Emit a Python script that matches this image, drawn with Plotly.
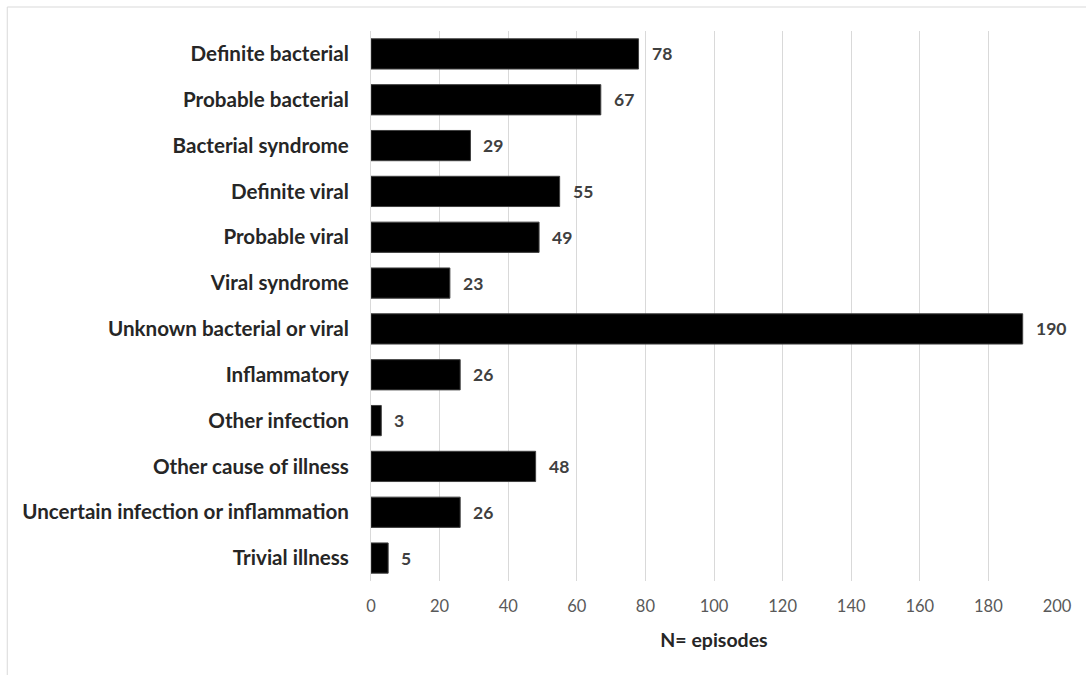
import plotly.graph_objects as go

# Episode counts by final diagnostic category
categories = [
    "Definite bacterial",
    "Probable bacterial",
    "Bacterial syndrome",
    "Definite viral",
    "Probable viral",
    "Viral syndrome",
    "Unknown bacterial or viral",
    "Inflammatory",
    "Other infection",
    "Other cause of illness",
    "Uncertain infection or inflammation",
    "Trivial illness",
]
episodes = [78, 67, 29, 55, 49, 23, 190, 26, 3, 48, 26, 5]
x_ticks = list(range(0, 201, 20))

fig = go.Figure(
    go.Bar(
        y=categories,
        x=episodes,
        orientation="h",
        marker=dict(color="black", line=dict(color="#404040", width=1)),
        cliponaxis=False,
    )
)

# value labels placed just right of each bar end
for cat, val in zip(categories, episodes):
    fig.add_annotation(
        x=val,
        y=cat,
        text=str(val),
        showarrow=False,
        xanchor="left",
        xshift=11,
        font=dict(family="Lato", size=17.5, color="#404040", weight="bold"),
    )

fig.update_layout(
    width=1086,
    height=675,
    margin=dict(l=371, r=29, t=31, b=94),
    paper_bgcolor="white",
    plot_bgcolor="white",
    bargap=0.34,
    showlegend=False,
    font=dict(family="Lato", color="#262626"),
    xaxis=dict(
        range=[0, 200],
        tickvals=x_ticks,
        showgrid=True,
        gridcolor="#d9d9d9",
        gridwidth=1,
        zeroline=False,
        showline=False,
        ticks="",
        ticklabelstandoff=13,
        tickfont=dict(family="Lato", size=16.5, color="#595959"),
        title=dict(
            text="N= episodes",
            font=dict(family="Lato", size=19.5, color="#262626", weight="bold"),
            standoff=18,
        ),
    ),
    yaxis=dict(
        autorange="reversed",
        showgrid=False,
        showline=True,
        linecolor="#d9d9d9",
        linewidth=1,
        ticks="",
        ticklabelstandoff=17,
        tickfont=dict(family="Lato", size=20.6, color="#262626", weight="bold"),
    ),
    shapes=[
        dict(
            type="rect",
            xref="paper",
            yref="paper",
            x0=-364 / 686.5,
            x1=1.2,
            y0=-1.0,
            y1=1 + 24 / 550,
            line=dict(color="#d9d9d9", width=1),
            fillcolor="rgba(0,0,0,0)",
            layer="below",
        )
    ],
)

fig.write_html("out.html")
